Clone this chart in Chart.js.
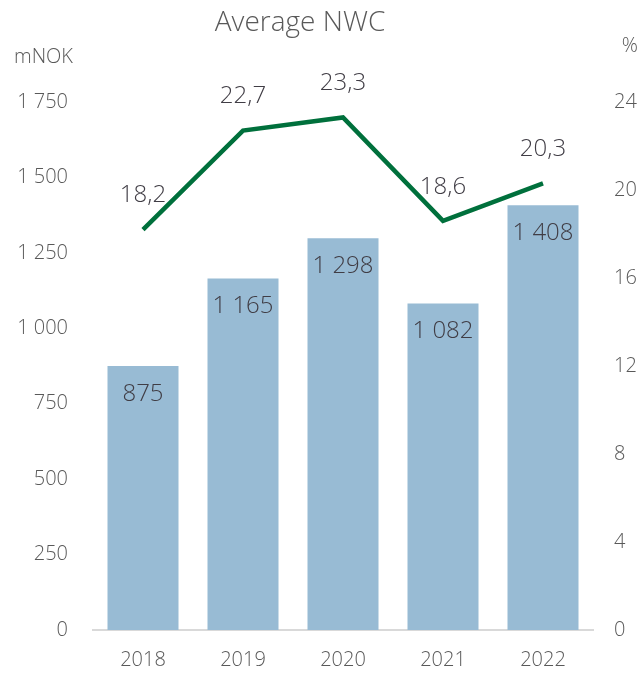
<!DOCTYPE html>
<html lang="en">
<head>
    <meta charset="UTF-8">
    <title>Average NWC</title>
    <script src="https://cdn.jsdelivr.net/npm/chart.js"></script>
    <style>
        body { margin: 0; background: #fff; }
        .chart-container { width: 643px; height: 675px; }
    </style>
</head>
<body>
    <div class="chart-container">
        <canvas id="nwcChart" width="643" height="675"></canvas>
    </div>

    <script>
        const years = ['2018', '2019', '2020', '2021', '2022'];
        const avgNwc = [875, 1165, 1298, 1082, 1408];       // mNOK, bars
        const nwcPct = [18.2, 22.7, 23.3, 18.6, 20.3];       // %, line
        const leftTicks = [0, 250, 500, 750, 1000, 1250, 1500, 1750];
        const rightTicks = [0, 4, 8, 12, 16, 20, 24];

        const FONT = '"Open Sans", "Liberation Sans", sans-serif';
        const tickColor = '#595959';
        const labelColor = '#403D45';

        // 1 750 style numbers and 18,2 style decimals
        const fmtInt = v => String(v).replace(/\B(?=(\d{3})+(?!\d))/g, ' ');
        const fmtDec = v => v.toFixed(1).replace('.', ',');

        // title, labels on bars and line, unit captions
        const labelPlugin = {
            id: 'labels',
            afterDatasetsDraw(chart) {
                const ctx = chart.ctx;
                ctx.save();
                ctx.font = '300 24px ' + FONT;
                ctx.fillStyle = labelColor;
                ctx.textAlign = 'center';
                ctx.textBaseline = 'middle';
                chart.getDatasetMeta(1).data.forEach((bar, i) => {
                    ctx.fillText(fmtInt(avgNwc[i]), bar.x, bar.y + 28);
                });
                chart.getDatasetMeta(0).data.forEach((pt, i) => {
                    ctx.fillText(fmtDec(nwcPct[i]), pt.x, pt.y - 34);
                });
                ctx.fillStyle = tickColor;
                ctx.font = '300 28px ' + FONT;
                ctx.fillText('Average NWC', 300, 23);
                ctx.font = '300 20px ' + FONT;
                ctx.textAlign = 'left';
                ctx.fillText('mNOK', 14, 57);
                ctx.textAlign = 'right';
                ctx.fillText('%', 638, 46);
                ctx.restore();
            }
        };

        const ctx = document.getElementById('nwcChart').getContext('2d');
        new Chart(ctx, {
            type: 'bar',
            data: {
                labels: years,
                datasets: [
                    {
                        type: 'line',
                        label: 'NWC %',
                        data: nwcPct,
                        yAxisID: 'y1',
                        borderColor: '#00703C',
                        borderWidth: 4.5,
                        pointRadius: 0,
                        tension: 0,
                        fill: false,
                        order: 0
                    },
                    {
                        label: 'Average NWC',
                        data: avgNwc,
                        yAxisID: 'y',
                        backgroundColor: '#98BBD4',
                        borderWidth: 0,
                        categoryPercentage: 1,
                        barPercentage: 0.71,
                        order: 1
                    }
                ]
            },
            options: {
                responsive: false,
                animation: false,
                layout: { padding: { top: 102, bottom: 0, left: 0, right: 0 } },
                plugins: {
                    legend: { display: false },
                    tooltip: { enabled: false },
                    title: { display: false }
                },
                scales: {
                    x: {
                        grid: { display: false, drawTicks: false },
                        border: { display: true, color: '#D9D9D9', width: 2 },
                        ticks: {
                            color: tickColor,
                            font: { family: FONT, size: 20, weight: '300' },
                            padding: 18
                        },
                        afterFit(scale) { scale.height = 45; }
                    },
                    y: {
                        position: 'left',
                        min: 0,
                        max: 1750,
                        afterBuildTicks(scale) { scale.ticks = leftTicks.map(v => ({ value: v })); },
                        grid: { display: false, drawTicks: false },
                        border: { display: false },
                        ticks: {
                            color: tickColor,
                            font: { family: FONT, size: 20, weight: '300' },
                            padding: 25,
                            callback: v => fmtInt(v)
                        },
                        afterFit(scale) { scale.width = 93; }
                    },
                    y1: {
                        position: 'right',
                        min: 0,
                        max: 24,
                        afterBuildTicks(scale) { scale.ticks = rightTicks.map(v => ({ value: v })); },
                        grid: { display: false, drawTicks: false },
                        border: { display: false },
                        ticks: {
                            color: tickColor,
                            font: { family: FONT, size: 20, weight: '300' },
                            padding: 21
                        },
                        afterFit(scale) { scale.width = 50; }
                    }
                }
            },
            plugins: [labelPlugin]
        });
    </script>
</body>
</html>
